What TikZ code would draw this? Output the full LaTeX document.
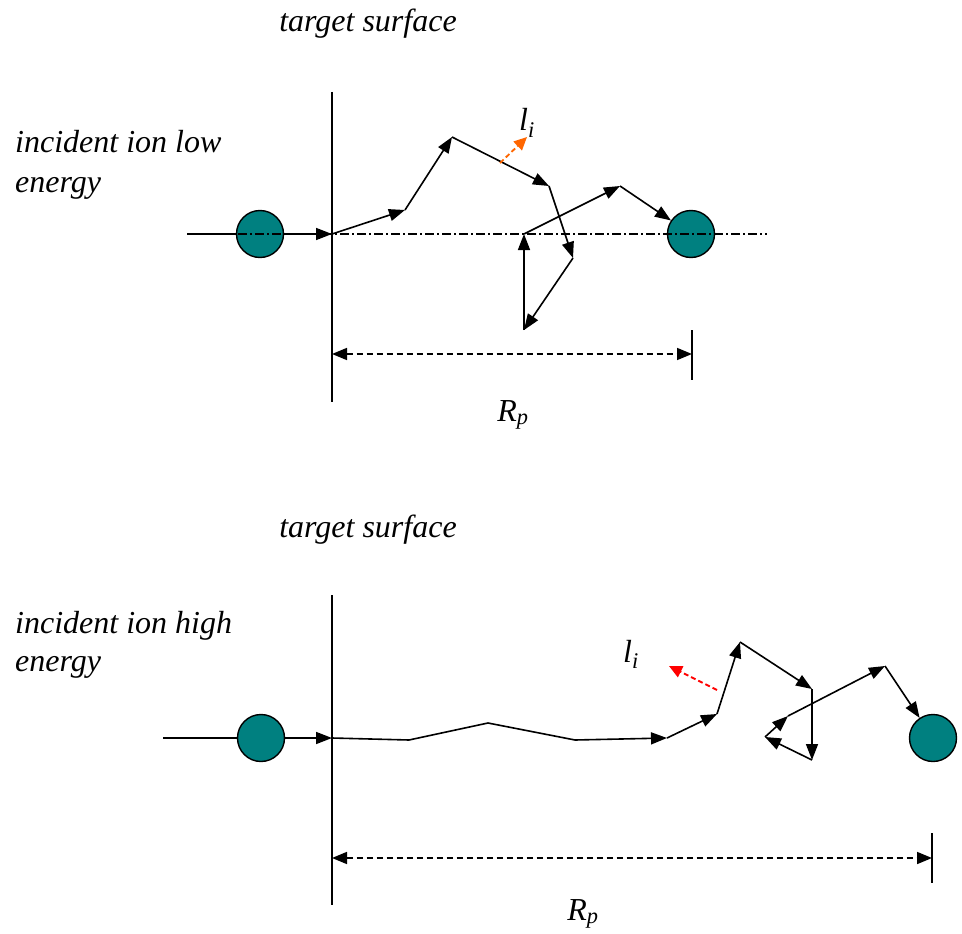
\documentclass[tikz,border=0pt]{standalone}
\usepackage{fontspec}
\setmainfont{Liberation Serif}
\usetikzlibrary{arrows.meta}
\definecolor{ionteal}{RGB}{0,128,128}
\definecolor{orng}{RGB}{255,102,0}
\begin{document}
\begin{tikzpicture}[x=1pt,y=-1pt,
 lbl/.style={font=\itshape\fontsize{32}{36}\selectfont, inner sep=0pt},
 ion/.style={circle, draw=black, line width=1.4pt, fill=ionteal, minimum size=47pt, inner sep=0pt},
 hop/.style={line width=1.6pt, line join=round, -{Triangle[length=16pt,width=12pt]}},
 seg/.style={line width=1.6pt, line join=round},
 surf/.style={line width=2.2pt},
 axis/.style={line width=1.4pt, dash pattern=on 9pt off 3pt on 2pt off 3pt},
 dim/.style={line width=1.6pt, dash pattern=on 6pt off 4pt, {Triangle[length=15pt,width=12pt]}-{Triangle[length=15pt,width=12pt]}},
 tickl/.style={line width=1.6pt},
 stepd/.style={line width=1.8pt, dash pattern=on 5pt off 3pt, -{Triangle[length=13pt,width=12pt]}}
]
\useasboundingbox (0,0) rectangle (962,934);

% ---------- top: low energy ----------
\node[lbl, anchor=base] (ts1) at (368,32) {target surface};
\node[lbl, anchor=base west] (inc1a) at (15,152) {incident ion low};
\node[lbl, anchor=base west] (inc1b) at (15,192) {energy};

\coordinate (s1t) at (332,92);
\coordinate (s1b) at (332,402);
\draw[surf] (s1t) -- (s1b);

\coordinate (in1) at (187,234);
\coordinate (e1) at (332,234);
\coordinate (ax1) at (767,234);
\draw[hop] (in1) -- (e1);
\node[ion] (ion1a) at (260,234) {};

\coordinate (a1) at (405,210);
\coordinate (a2) at (452,137);
\coordinate (a3) at (549,186);
\coordinate (a4) at (573,258);
\coordinate (a5) at (524,330);
\coordinate (a6) at (524,234);
\coordinate (a7) at (620,186);
\node[ion] (ion1b) at (691,234) {};

\draw[hop] (e1) -- (a1);
\draw[hop] (a1) -- (a2);
\draw[hop] (a2) -- (a3);
\draw[hop] (a3) -- (a4);
\draw[hop] (a4) -- (a5);
\draw[hop] (a5) -- (a6);
\draw[hop] (a6) -- (a7);
\draw[hop] (a7) -- (ion1b);

\draw[axis] (in1) -- (ax1);

\coordinate (o1s) at (500,163);
\coordinate (o1e) at (527,137);
\draw[stepd, orng] (o1s) -- (o1e);
\node[lbl, anchor=base] (li1) at (527,131) {l\textsubscript{i}};

\coordinate (d1l) at (332,354);
\coordinate (d1r) at (692,354);
\coordinate (t1t) at (692,330);
\coordinate (t1b) at (692,380);
\draw[tickl] (t1t) -- (t1b);
\draw[dim] (d1l) -- (d1r);
\node[lbl, anchor=base] (rp1) at (513,421) {R\textsubscript{p}};

% ---------- bottom: high energy ----------
\node[lbl, anchor=base] (ts2) at (368,537) {target surface};
\node[lbl, anchor=base west] (inc2a) at (15,633) {incident ion high};
\node[lbl, anchor=base west] (inc2b) at (15,671) {energy};

\coordinate (s2t) at (332,595);
\coordinate (s2b) at (332,905);
\draw[surf] (s2t) -- (s2b);

\coordinate (in2) at (163,738);
\coordinate (e2) at (332,738);
\draw[hop] (in2) -- (e2);
\node[ion] (ion2a) at (261,738) {};

\coordinate (b1) at (409,740);
\coordinate (b2) at (488,723);
\coordinate (b3) at (575,740);
\coordinate (b4) at (667,738);
\coordinate (b5) at (717,714);
\coordinate (b6) at (740,642);
\coordinate (b7) at (812,689);
\coordinate (b8) at (812,760);
\coordinate (b9) at (765,737);
\coordinate (b10) at (788,716);
\coordinate (b11) at (885,666);
\node[ion] (ion2b) at (933,738) {};

\draw[seg] (e2) -- (b1) -- (b2) -- (b3);
\draw[hop] (b3) -- (b4);
\draw[hop] (b4) -- (b5);
\draw[hop] (b5) -- (b6);
\draw[hop] (b6) -- (b7);
\draw[hop] (b7) -- (b8);
\draw[hop] (b8) -- (b9);
\draw[hop] (b9) -- (b10);
\draw[hop] (b10) -- (b11);
\draw[hop] (b11) -- (ion2b);

\coordinate (r2s) at (717,690);
\coordinate (r2e) at (669,666);
\draw[stepd, red] (r2s) -- (r2e);
\node[lbl, anchor=base] (li2) at (631,662) {l\textsubscript{i}};

\coordinate (d2l) at (332,858);
\coordinate (d2r) at (932,858);
\coordinate (t2t) at (932,833);
\coordinate (t2b) at (932,883);
\draw[tickl] (t2t) -- (t2b);
\draw[dim] (d2l) -- (d2r);
\node[lbl, anchor=base] (rp2) at (583,920) {R\textsubscript{p}};
\end{tikzpicture}
\end{document}
